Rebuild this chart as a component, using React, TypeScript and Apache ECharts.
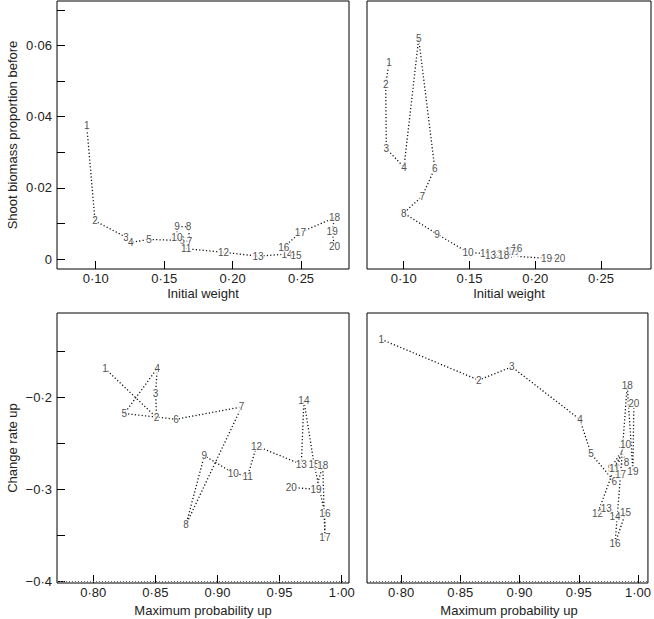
import React, { useEffect, useRef } from "react";
import * as echarts from "echarts";

// Top-left: Initial weight vs shoot biomass proportion before
const tlX = [0.0934, 0.0995, 0.1222, 0.1256, 0.139, 0.163, 0.1685, 0.1678, 0.1593, 0.1593, 0.1661, 0.1934, 0.2185, 0.2398, 0.2463, 0.2373, 0.2495, 0.2744, 0.2727, 0.2744];
const tlY = [0.0375, 0.0107, 0.0061, 0.0047, 0.0055, 0.0052, 0.0049, 0.0091, 0.0091, 0.006, 0.0029, 0.0019, 0.0008, 0.0014, 0.0011, 0.0033, 0.0075, 0.0116, 0.0077, 0.0035];
// Top-right
const trX = [0.0888, 0.0863, 0.0868, 0.1002, 0.1114, 0.1236, 0.1142, 0.1, 0.1254, 0.1489, 0.162, 0.171, 0.166, 0.179, 0.183, 0.186, 0.181, 0.176, 0.2086, 0.2187];
const trY = [0.0551, 0.049, 0.031, 0.0258, 0.0619, 0.0255, 0.0177, 0.0129, 0.007, 0.0018, 0.0016, 0.0012, 0.001, 0.0014, 0.002, 0.003, 0.0022, 0.001, 0.0002, 0.0002];
// Bottom-left: Maximum probability up vs change rate up
const blX = [0.8094, 0.851, 0.8502, 0.8515, 0.825, 0.8666, 0.9194, 0.8746, 0.8894, 0.9127, 0.9243, 0.9315, 0.9675, 0.9696, 0.9778, 0.9865, 0.9865, 0.9848, 0.9793, 0.9595];
const blY = [-0.1688, -0.2221, -0.196, -0.1688, -0.2177, -0.2239, -0.2105, -0.3384, -0.2634, -0.2822, -0.2855, -0.2529, -0.2728, -0.2035, -0.2728, -0.3262, -0.3525, -0.2742, -0.2998, -0.2978];
// Bottom-right
const brX = [0.7833, 0.8655, 0.8934, 0.951, 0.9603, 0.98, 0.9861, 0.9903, 0.9769, 0.9895, 0.9798, 0.9658, 0.9733, 0.9806, 0.9895, 0.9806, 0.9853, 0.9909, 0.9957, 0.9965];
const brY = [-0.1373, -0.1815, -0.167, -0.2242, -0.2612, -0.2913, -0.2587, -0.2703, -0.2775, -0.2514, -0.2775, -0.3264, -0.3203, -0.3293, -0.3253, -0.359, -0.284, -0.187, -0.2801, -0.2068];

const topXTicks = [0.1, 0.15, 0.2, 0.25];
const topYTicks = [0, 0.01, 0.02, 0.03, 0.04, 0.05, 0.06, 0.07];
const topYLabels = [0, 0.02, 0.04, 0.06];
const botXTicks = [0.8, 0.85, 0.9, 0.95, 1.0];
const botYTicks = [-0.4, -0.35, -0.3, -0.25, -0.2, -0.15];
const botYLabels = [-0.4, -0.3, -0.2];

const FONT = "'Liberation Sans', Arial, Helvetica, sans-serif";

const fmt2 = (v: number) => (Math.abs(v) < 1e-9 ? "0" : v.toFixed(2).replace(".", "\u00b7"));
const fmt1 = (v: number) => {
  const s = Math.abs(v).toFixed(1).replace(".", "\u00b7");
  return v < 0 ? "\u2212" + s : s;
};

const zip = (xs: number[], ys: number[]) => xs.map((x, i) => [x, ys[i]]);

function xAxis(gi: number, min: number, max: number, ticks: number[]) {
  return {
    type: "value",
    gridIndex: gi,
    min,
    max,
    axisLine: { show: false, onZero: false },
    splitLine: { show: false },
    axisTick: { show: true, inside: true, length: 8, customValues: ticks, lineStyle: { color: "#000", width: 1 } },
    axisLabel: { customValues: ticks, formatter: fmt2, margin: 3, color: "#222", fontSize: 13, fontFamily: FONT },
  };
}

function yAxis(gi: number, min: number, max: number, ticks: number[] | null, labels: number[] | null, f: any) {
  return {
    type: "value",
    gridIndex: gi,
    min,
    max,
    axisLine: { show: false, onZero: false },
    splitLine: { show: false },
    axisTick: ticks
      ? { show: true, inside: true, length: 8, customValues: ticks, lineStyle: { color: "#000", width: 1 } }
      : { show: false },
    axisLabel: labels
      ? { show: true, customValues: labels, formatter: f, margin: 5, color: "#222", fontSize: 13, fontFamily: FONT }
      : { show: false },
  };
}

function pathSeries(i: number, xs: number[], ys: number[], bottomLine: boolean) {
  const line: any = {
    type: "line",
    xAxisIndex: i,
    yAxisIndex: i,
    data: zip(xs, ys),
    showSymbol: false,
    symbol: "none",
    silent: true,
    z: 2,
    lineStyle: { color: "#111", width: 1.3, type: [1.2, 2.2] },
  };
  if (bottomLine) {
    line.markLine = {
      silent: true,
      symbol: "none",
      label: { show: false },
      lineStyle: { color: "#666", width: 1, type: [1, 2] },
      data: [{ yAxis: -0.4 }],
    };
  }
  const labels = {
    type: "scatter",
    xAxisIndex: i,
    yAxisIndex: i,
    data: zip(xs, ys),
    symbolSize: 1,
    itemStyle: { color: "rgba(0,0,0,0)" },
    silent: true,
    z: 3,
    label: {
      show: true,
      position: "inside",
      formatter: (p: any) => String(p.dataIndex + 1),
      fontSize: 10,
      fontFamily: FONT,
      color: "#222",
      backgroundColor: "#fff",
      padding: [0, 0],
    },
  };
  return [line, labels];
}

export default function App() {
  const ref = useRef<HTMLDivElement>(null);
  useEffect(() => {
    document.body.style.margin = "0";
    if (!ref.current) return;
    const chart = echarts.init(ref.current, null, { renderer: "svg" });
    const gridBase = { show: true, borderColor: "#000", borderWidth: 1, backgroundColor: "#fff", containLabel: false };
    const nameFont = `13px ${FONT}`;
    const option: any = {
      animation: false,
      backgroundColor: "#fff",
      grid: [
        { ...gridBase, left: 57, top: 1, width: 292, height: 268 },
        { ...gridBase, left: 367, top: 1, width: 284, height: 268 },
        { ...gridBase, left: 57, top: 313, width: 292, height: 270 },
        { ...gridBase, left: 367, top: 313, width: 284, height: 270 },
      ],
      xAxis: [
        xAxis(0, 0.0717, 0.285, topXTicks),
        xAxis(1, 0.0721, 0.288, topXTicks),
        xAxis(2, 0.7708, 1.0059, botXTicks),
        xAxis(3, 0.7712, 1.0084, botXTicks),
      ],
      yAxis: [
        yAxis(0, -0.0028, 0.0725, topYTicks, topYLabels, fmt2),
        yAxis(1, -0.0028, 0.0725, null, null, fmt2),
        yAxis(2, -0.4014, -0.1087, botYTicks, botYLabels, fmt1),
        yAxis(3, -0.4014, -0.1087, null, null, fmt1),
      ],
      series: [
        ...pathSeries(0, tlX, tlY, false),
        ...pathSeries(1, trX, trY, false),
        ...pathSeries(2, blX, blY, true),
        ...pathSeries(3, brX, brY, true),
      ],
      graphic: [
        { type: "text", x: 12, y: 135, rotation: Math.PI / 2, style: { text: "Shoot biomass proportion before", font: nameFont, fill: "#222", align: "center", verticalAlign: "middle" } },
        { type: "text", x: 12, y: 448, rotation: Math.PI / 2, style: { text: "Change rate up", font: nameFont, fill: "#222", align: "center", verticalAlign: "middle" } },
        { type: "text", x: 203, y: 293, style: { text: "Initial weight", font: nameFont, fill: "#222", align: "center", verticalAlign: "middle" } },
        { type: "text", x: 509, y: 293, style: { text: "Initial weight", font: nameFont, fill: "#222", align: "center", verticalAlign: "middle" } },
        { type: "text", x: 203, y: 610, style: { text: "Maximum probability up", font: nameFont, fill: "#222", align: "center", verticalAlign: "middle" } },
        { type: "text", x: 509, y: 610, style: { text: "Maximum probability up", font: nameFont, fill: "#222", align: "center", verticalAlign: "middle" } },
      ],
    };
    chart.setOption(option);
    return () => chart.dispose();
  }, []);
  return <div ref={ref} style={{ width: 654, height: 619 }} />;
}
